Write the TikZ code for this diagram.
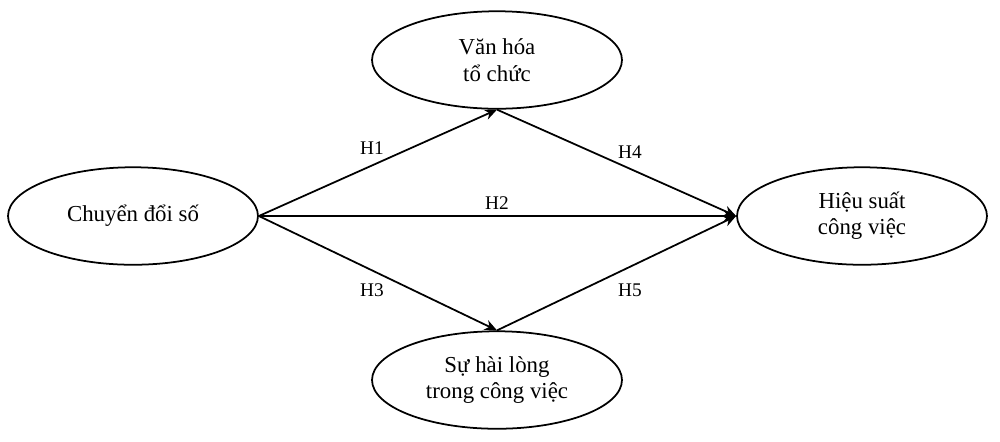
\documentclass[tikz,border=0pt]{standalone}
\usepackage{fontspec}
\setmainfont{Liberation Serif}
\usetikzlibrary{shapes.geometric,arrows.meta,positioning}
\begin{document}
\begin{tikzpicture}[x=0.02cm,y=-0.02cm,
   construct/.style={ellipse,draw,line width=1pt,minimum width=5cm,minimum height=1.95cm,
     inner sep=0pt,align=center,font=\fontsize{13}{15}\selectfont},
   path/.style={-{Stealth[length=7pt,width=6pt]},line width=1pt},
   hyp/.style={font=\fontsize{11}{13}\selectfont}]
   \useasboundingbox (0,0) rectangle (1000,441);
   \node[construct] (cds) at (133,216) {Chuyển đổi số};
   \node[construct] (vh) at (497,60) {Văn hóa\\tổ chức};
   \node[construct] (hs) at (862,216) {Hiệu suất\\công việc};
   \node[construct] (hl) at (497,380) {Sự hài lòng\\trong công việc};
   \draw[path] (cds.east) -- (vh.south);
   \draw[path] (vh.south) -- (hs.west);
   \draw[path] (cds.east) -- (hs.west);
   \draw[path] (cds.east) -- (hl.north);
   \draw[path] (hl.north) -- (hs.west);
   % hypothesis labels
   \node[hyp] (h1) at (372,148) {H1};
   \node[hyp] (h2) at (497,203) {H2};
   \node[hyp] (h3) at (372,290) {H3};
   \node[hyp] (h4) at (630,152) {H4};
   \node[hyp] (h5) at (630,290) {H5};
\end{tikzpicture}
\end{document}
